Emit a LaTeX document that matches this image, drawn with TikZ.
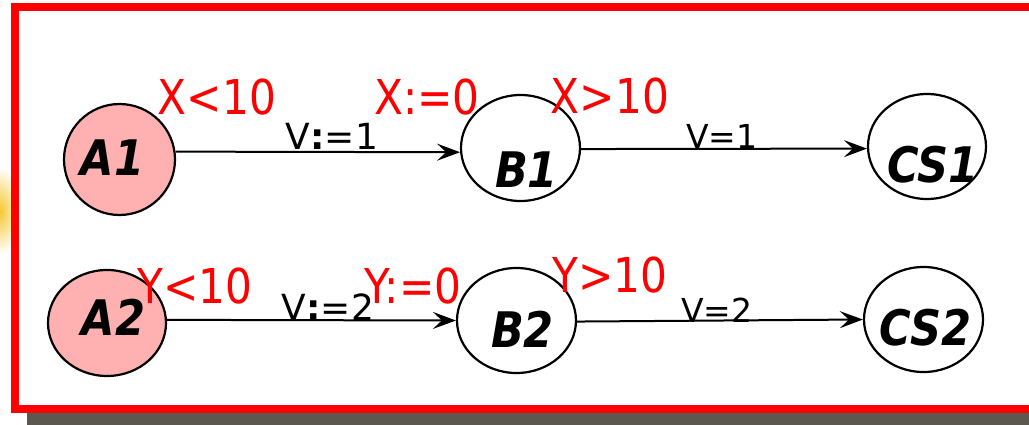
\documentclass[tikz,border=0pt]{standalone}
\usepackage{fontspec}
\setmainfont{DejaVu Sans}
\newfontfamily\cond{DejaVu Sans}[FakeStretch=0.88]
\usetikzlibrary{arrows.meta,shapes.geometric}
\definecolor{pinkfill}{RGB}{255,176,176}
\definecolor{shadowgray}{RGB}{92,87,79}
\definecolor{glow}{RGB}{247,200,50}
\begin{document}
\begin{tikzpicture}[x=1pt,y=-1pt,
  state/.style={ellipse, draw=black, line width=2.2pt, inner sep=0pt, fill=white},
  nm/.style={font=\cond\fontsize{49}{51}\selectfont\bfseries\itshape, inner sep=0pt},
  guard/.style={font=\cond\fontsize{48}{50}\selectfont, text=red, anchor=base, inner sep=0pt},
  act/.style={font=\fontsize{36}{38}\selectfont, anchor=base, inner sep=0pt},
  actb/.style={font=\fontsize{33}{35}\selectfont, anchor=base, inner sep=0pt},
  trans/.style={draw=black, line width=2pt, -{Stealth[length=23pt,width=17pt,inset=9pt]}}]
\useasboundingbox (0,0) rectangle (1029,425);
\clip (0,0) rectangle (1029,425);
% glow, shadow, frame
\shade[inner color=glow, outer color=white] (0,211) ellipse [x radius=22, y radius=44];
\fill[shadowgray] (27,19) rectangle (1040,430);
\draw[red, line width=8pt, fill=white] (15,7.5) rectangle (1040,409);
% states
\node[state, fill=pinkfill, minimum width=111pt, minimum height=111pt,
  label={[nm, xshift=-7pt, yshift=2pt]center:A1}] (A1) at (119.5,159.5) {};
\node[state, fill=pinkfill, minimum width=118pt, minimum height=106pt,
  label={[nm, xshift=6.5pt, yshift=5.5pt]center:A2}] (A2) at (107,323) {};
\node[state, minimum width=119pt, minimum height=106pt,
  label={[nm, xshift=6pt, yshift=-21.5pt]center:B1}] (B1) at (520.5,148) {};
\node[state, minimum width=119pt, minimum height=105pt,
  label={[nm, xshift=6pt, yshift=-9pt]center:B2}] (B2) at (516.5,320.5) {};
\node[state, minimum width=118pt, minimum height=105pt,
  label={[nm, xshift=6pt, yshift=-18pt]center:CS1}] (CS1) at (927,146.5) {};
\node[state, minimum width=119pt, minimum height=105pt,
  label={[nm, xshift=2pt, yshift=-8pt]center:CS2}] (CS2) at (923.5,319.5) {};
% transitions
\draw[trans] (A1.8) -- (B1.184);
\draw[trans] (B1.359) -- (CS1.182);
\draw[trans] (A2.3) -- (B2.180);
\draw[trans] (B2.359) -- (CS2.180);
% actions
\node[act] (a1) at (332,150) {V{\bfseries:}=1};
\node[act] (a2) at (328,320) {V{\bfseries:}=2};
\node[actb] (a3) at (722,149) {V=1};
\node[actb] (a4) at (717,322) {V=2};
% guards
\node[guard] (g1) at (217,115) {X<10};
\node[guard] (g2) at (427,115) {X:=0};
\node[guard] (g3) at (610,114) {X>10};
\node[guard] (g4) at (195,303) {Y<10};
\node[guard] (g5) at (413,303) {Y:=0};
\node[guard] (g6) at (610,292) {Y>10};
\end{tikzpicture}
\end{document}
